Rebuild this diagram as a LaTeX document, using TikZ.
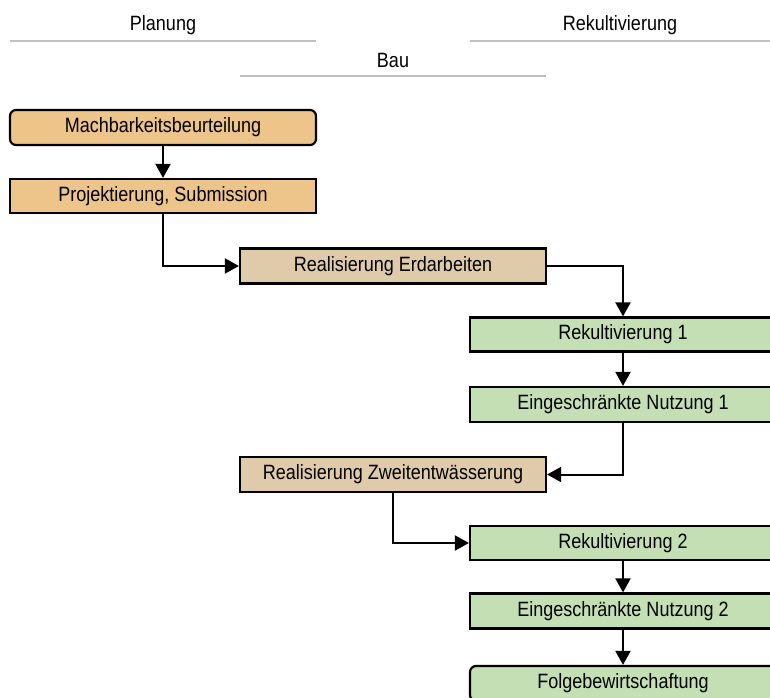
\documentclass[tikz,border=0pt]{standalone}
\usepackage{fontspec}
\setmainfont{Liberation Sans}[FakeStretch=0.87]
\usetikzlibrary{arrows.meta}
\definecolor{planfill}{HTML}{EDC48A}
\definecolor{baufill}{HTML}{DFCBA9}
\definecolor{rekfill}{HTML}{C5DFB4}
\definecolor{headline}{HTML}{C0C0C0}
\tikzset{
  box/.style={draw=black, line width=2.2pt, minimum width=306pt, minimum height=34pt, inner sep=0pt, font=\fontsize{20.7}{23}\selectfont},
  planbox/.style={box, fill=planfill},
  baubox/.style={box, fill=baufill},
  rekbox/.style={box, fill=rekfill},
  conn/.style={line width=2pt, -{Triangle[length=14pt,width=15pt]}},
  headtext/.style={font=\fontsize{20.7}{23}\selectfont, inner sep=0pt},
  headrule/.style={draw=headline, line width=2pt}
}
\begin{document}
\begin{tikzpicture}[x=1pt,y=-1pt]
\useasboundingbox (0,0) rectangle (770,697);
\clip (0,0) rectangle (770,697);
% header
\node[headtext] (hplan) at (163,25.5) {Planung};
\node[headtext] (hrek) at (620,25.5) {Rekultivierung};
\node[headtext] (hbau) at (393,60) {Bau};
\draw[headrule] (10,41) -- (316,41);
\draw[headrule] (470,41) -- (770,41);
\draw[headrule] (240,75.5) -- (546,75.5);
% boxes
\node[planbox, rounded corners=6pt, minimum height=35pt] (M) at (163,127.5) {Machbarkeitsbeurteilung};
\node[planbox] (P) at (163,196) {Projektierung, Submission};
\node[baubox, minimum height=35pt] (E) at (393,266) {Realisierung Erdarbeiten};
\node[rekbox] (R1) at (623,334.5) {Rekultivierung 1};
\node[rekbox, minimum height=35pt] (N1) at (623,404.5) {Eingeschränkte Nutzung 1};
\node[baubox, minimum height=35pt] (Z) at (393,474.5) {Realisierung Zweitentwässerung};
\node[rekbox] (R2) at (623,543) {Rekultivierung 2};
\node[rekbox, minimum height=35pt] (N2) at (623,611) {Eingeschränkte Nutzung 2};
\node[rekbox, rounded corners=6pt, minimum height=35pt] (F) at (623,683.5) {Folgebewirtschaftung};
% connectors
\draw[conn] (M) -- (P);
\draw[conn] (P.south) |- (E.west);
\draw[conn] (E.east) -| (R1.north);
\draw[conn] (R1) -- (N1);
\draw[conn] (N1.south) |- (Z.east);
\draw[conn] (Z.south) |- (R2.west);
\draw[conn] (R2) -- (N2);
\draw[conn] (N2) -- (F);
\end{tikzpicture}
\end{document}
